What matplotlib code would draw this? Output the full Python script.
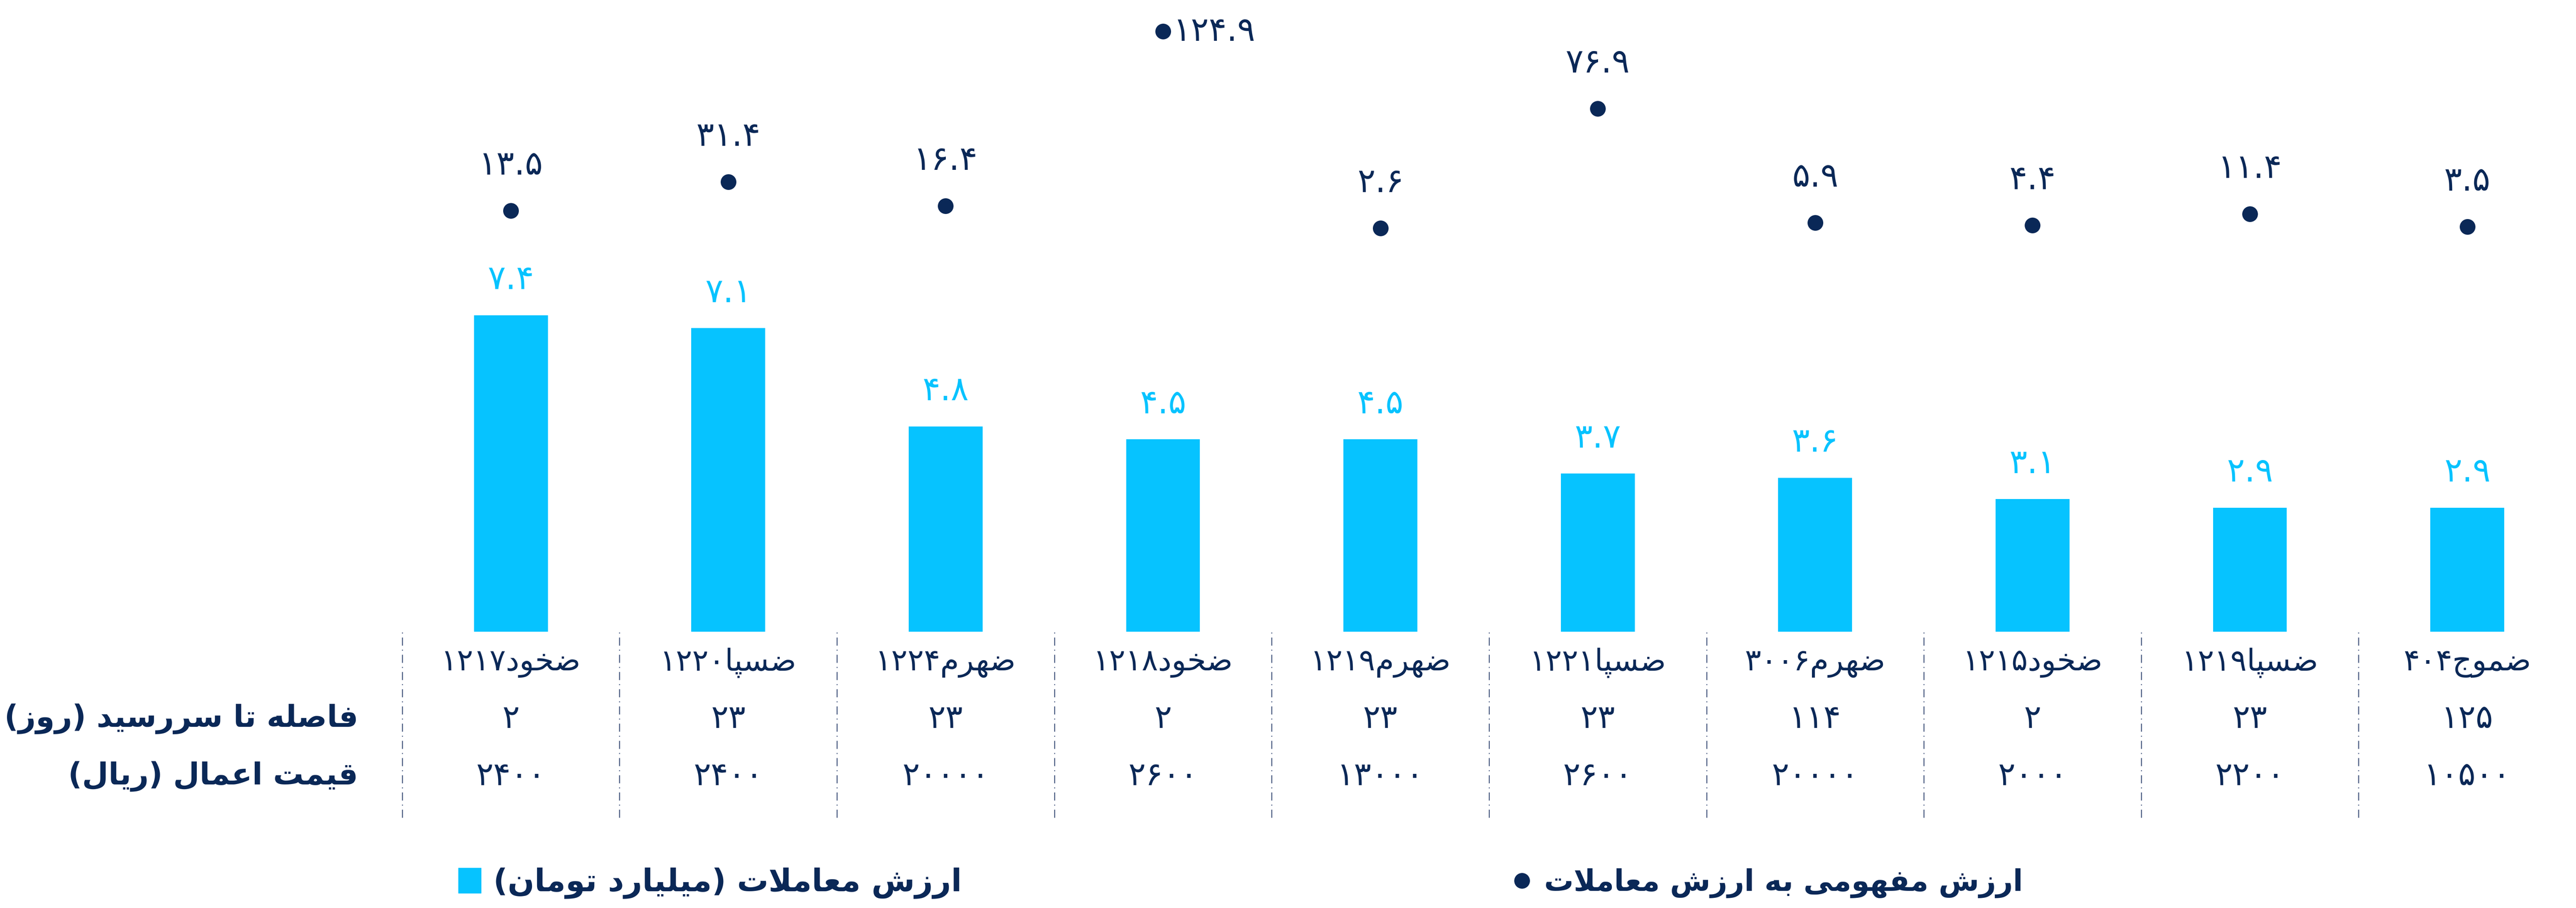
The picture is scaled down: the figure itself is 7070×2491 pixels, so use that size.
import re
import matplotlib
matplotlib.use('Agg')
import matplotlib.pyplot as plt
from matplotlib.transforms import blended_transform_factory
from matplotlib.patches import Patch
from matplotlib.lines import Line2D

BLUE = '#06C3FF'
NAVY = '#0A2857'
GRID = '#4E5F84'

symbols = ['ضخود1217', 'ضسپا1220', 'ضهرم1224', 'ضخود1218', 'ضهرم1219',
           'ضسپا1221', 'ضهرم3006', 'ضخود1215', 'ضسپا1219', 'ضموج404']
days_to_maturity = [2, 23, 23, 2, 23, 23, 114, 2, 23, 125]
strike_price = [2400, 2400, 20000, 2600, 13000, 2600, 20000, 2000, 2200, 10500]
trade_value = [7.4, 7.1, 4.8, 4.5, 4.5, 3.7, 3.6, 3.1, 2.9, 2.9]
notional_ratio = [13.5, 31.4, 16.4, 124.9, 2.6, 76.9, 5.9, 4.4, 11.4, 3.5]

row_days = 'فاصله تا سررسید (روز)'
row_strike = 'قیمت اعمال (ریال)'
legend_bar = 'ارزش معاملات (میلیارد تومان)'
legend_dot = 'ارزش مفهومی به ارزش معاملات'

# isolated, final, initial, medial (None -> does not join forward)
FORMS = {
    'ا': ('\uFE8D', '\uFE8E', None, None),
    'آ': ('\uFE81', '\uFE82', None, None),
    'د': ('\uFEA9', '\uFEAA', None, None),
    'ذ': ('\uFEAB', '\uFEAC', None, None),
    'ر': ('\uFEAD', '\uFEAE', None, None),
    'ز': ('\uFEAF', '\uFEB0', None, None),
    'ژ': ('\uFB8A', '\uFB8B', None, None),
    'و': ('\uFEED', '\uFEEE', None, None),
    'ب': ('\uFE8F', '\uFE90', '\uFE91', '\uFE92'),
    'پ': ('\uFB56', '\uFB57', '\uFB58', '\uFB59'),
    'ت': ('\uFE95', '\uFE96', '\uFE97', '\uFE98'),
    'ج': ('\uFE9D', '\uFE9E', '\uFE9F', '\uFEA0'),
    'ح': ('\uFEA1', '\uFEA2', '\uFEA3', '\uFEA4'),
    'خ': ('\uFEA5', '\uFEA6', '\uFEA7', '\uFEA8'),
    'س': ('\uFEB1', '\uFEB2', '\uFEB3', '\uFEB4'),
    'ش': ('\uFEB5', '\uFEB6', '\uFEB7', '\uFEB8'),
    'ص': ('\uFEB9', '\uFEBA', '\uFEBB', '\uFEBC'),
    'ض': ('\uFEBD', '\uFEBE', '\uFEBF', '\uFEC0'),
    'ع': ('\uFEC9', '\uFECA', '\uFECB', '\uFECC'),
    'ف': ('\uFED1', '\uFED2', '\uFED3', '\uFED4'),
    'ق': ('\uFED5', '\uFED6', '\uFED7', '\uFED8'),
    'ل': ('\uFEDD', '\uFEDE', '\uFEDF', '\uFEE0'),
    'م': ('\uFEE1', '\uFEE2', '\uFEE3', '\uFEE4'),
    'ن': ('\uFEE5', '\uFEE6', '\uFEE7', '\uFEE8'),
    'ه': ('\uFEE9', '\uFEEA', '\uFEEB', '\uFEEC'),
    'ی': ('\uFBFC', '\uFBFD', '\uFBFE', '\uFBFF'),
}
FA_DIGITS = str.maketrans('0123456789', '۰۱۲۳۴۵۶۷۸۹')
MIRROR = str.maketrans('()', ')(')


def shape(text):
    out = []
    i = 0
    while i < len(text):
        c = text[i]
        prev = text[i - 1] if i > 0 else None
        nxt = text[i + 1] if i + 1 < len(text) else None
        joins_prev = prev in FORMS and FORMS[prev][2] is not None
        if c == 'ل' and nxt == 'ا':
            out.append('\uFEFC' if joins_prev else '\uFEFB')
            i += 2
            continue
        if c not in FORMS:
            out.append(c)
            i += 1
            continue
        iso, fin, ini, med = FORMS[c]
        joins_next = ini is not None and nxt in FORMS
        if joins_prev and joins_next:
            out.append(med)
        elif joins_prev:
            out.append(fin)
        elif joins_next:
            out.append(ini)
        else:
            out.append(iso)
        i += 1
    return ''.join(out)


def fa(text):
    s = shape(str(text).translate(FA_DIGITS))
    runs = re.findall(r'[۰-۹.]+|[^۰-۹.]+', s)
    res = []
    for r in reversed(runs):
        if r[0] in '۰۱۲۳۴۵۶۷۸۹.':
            res.append(r)
        else:
            res.append(r[::-1].translate(MIRROR))
    return ''.join(res)


plt.rcParams['font.family'] = ['DejaVu Sans']

W, H = 1568, 552
fig = plt.figure(figsize=(70.7, 24.91), dpi=100)
left = 244.8 / W
bottom = 1 - 384 / H
ax = fig.add_axes([left, bottom, 1 - left, 1 - bottom])
x = list(range(len(symbols)))

ax.bar(x, trade_value, width=0.34, color=BLUE)
ax.set_xlim(-0.5, 9.5)
ax.set_ylim(0, 14.77)
ax.axis('off')
for xi, v in zip(x, trade_value):
    ax.annotate(fa(f'{v:.1f}'), (xi, v), xytext=(0, 70), textcoords='offset points',
                ha='center', va='center', color=BLUE, fontsize=66)

ax2 = ax.twinx()
ax2.plot(x, notional_ratio, 'o', ms=30, color=NAVY, ls='none')
ax2.set_ylim(-248.3, 144.4)
ax2.axis('off')
top_i = notional_ratio.index(max(notional_ratio))
for xi, v in zip(x, notional_ratio):
    if xi == top_i:
        ax2.annotate(fa(f'{v:.1f}'), (xi, v), xytext=(20, 0), textcoords='offset points',
                     ha='left', va='center', color=NAVY, fontsize=66)
    else:
        ax2.annotate(fa(f'{v:.1f}'), (xi, v), xytext=(0, 90), textcoords='offset points',
                     ha='center', va='center', color=NAVY, fontsize=66)

# table under the bars
tr = blended_transform_factory(ax.transData, fig.transFigure)
y_sym, y_days, y_strike = 1 - 403 / H, 1 - 437 / H, 1 - 472 / H
for xi in x:
    ax.text(xi, y_sym, fa(symbols[xi]), transform=tr, ha='center', va='center',
            color=NAVY, fontsize=60)
    ax.text(xi, y_days, fa(days_to_maturity[xi]), transform=tr, ha='center', va='center',
            color=NAVY, fontsize=64)
    ax.text(xi, y_strike, fa(strike_price[xi]), transform=tr, ha='center', va='center',
            color=NAVY, fontsize=64)
    ax.plot([xi - 0.5, xi - 0.5], [1 - 497 / H, bottom], transform=tr, clip_on=False,
            color=GRID, lw=2, ls=(0, (8, 4, 1, 4)))

fig.text(218 / W, y_days, fa(row_days), ha='right', va='center', color=NAVY,
         fontsize=60, fontweight='bold')
fig.text(218 / W, y_strike, fa(row_strike), ha='right', va='center', color=NAVY,
         fontsize=60, fontweight='bold')

# legends
leg1 = fig.legend(handles=[Patch(color=BLUE, label=fa(legend_bar))], loc='center left',
                  bbox_to_anchor=(279 / W, 1 - 537 / H), frameon=False,
                  prop={'size': 62, 'weight': 'bold'}, handlelength=0.72, handleheight=0.85,
                  handletextpad=0.4, borderaxespad=0, borderpad=0)
for t in leg1.get_texts():
    t.set_color(NAVY)
leg2 = fig.legend(handles=[Line2D([], [], marker='o', ls='none', ms=30, color=NAVY,
                                  label=fa(legend_dot))], loc='center left',
                  bbox_to_anchor=(922 / W, 1 - 537 / H), frameon=False,
                  prop={'size': 58, 'weight': 'bold'}, handlelength=0.5,
                  handletextpad=0.5, borderaxespad=0, borderpad=0)
for t in leg2.get_texts():
    t.set_color(NAVY)

fig.savefig('out.png', dpi=100, facecolor='white')
